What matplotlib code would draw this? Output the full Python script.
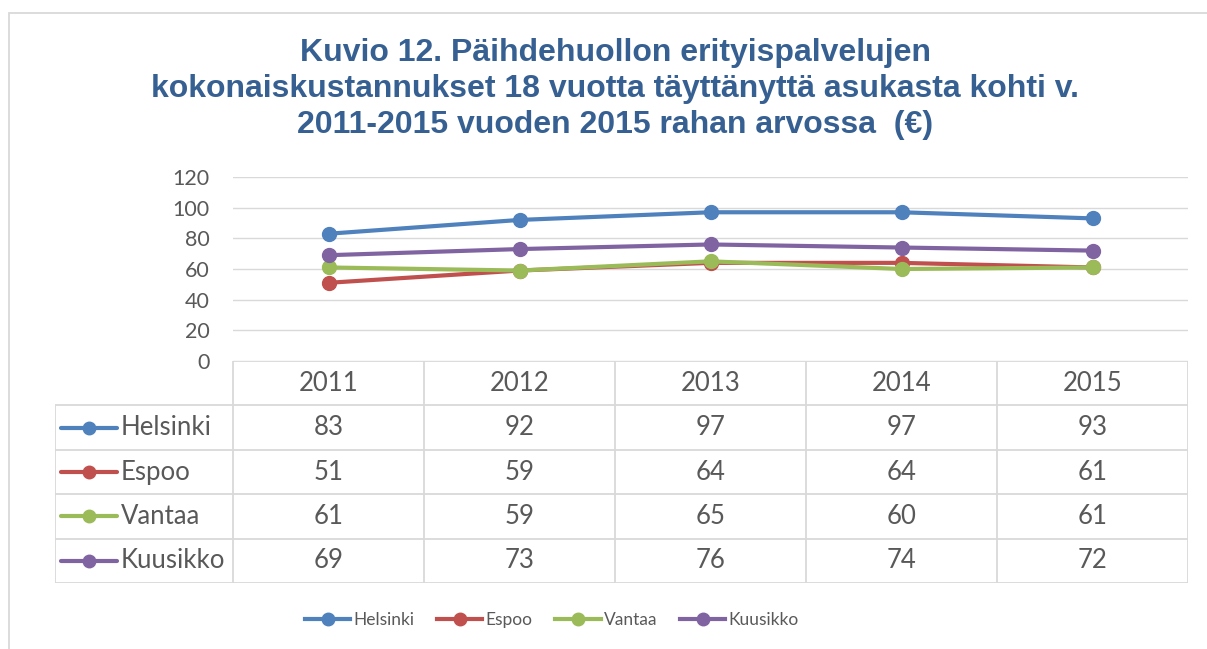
import matplotlib
matplotlib.use('Agg')
import matplotlib.pyplot as plt
from matplotlib import font_manager as fm
from matplotlib.lines import Line2D
from matplotlib.patches import Rectangle

# data
years = ['2011', '2012', '2013', '2014', '2015']
helsinki = [83, 92, 97, 97, 93]
espoo = [51, 59, 64, 64, 61]
vantaa = [61, 59, 65, 60, 61]
kuusikko = [69, 73, 76, 74, 72]
series_names = ['Helsinki', 'Espoo', 'Vantaa', 'Kuusikko']
yticks = [0, 20, 40, 60, 80, 100, 120]

title = ('Kuvio 12. Päihdehuollon erityispalvelujen\n'
         'kokonaiskustannukset 18 vuotta täyttänyttä asukasta kohti v.\n'
         '2011-2015 vuoden 2015 rahan arvossa  (€)')

colors = ['#4F81BD', '#C0504D', '#9BBB59', '#8064A2']
txt = '#595959'
grid = '#D9D9D9'

names = {f.name for f in fm.fontManager.ttflist}
body_font = 'Lato' if 'Lato' in names else 'DejaVu Sans'
title_font = 'Liberation Sans' if 'Liberation Sans' in names else 'DejaVu Sans'

W, H = 1207, 649
fig = plt.figure(figsize=(W / 100, H / 100), dpi=100)


def px_axes(left, top, right, bottom):
    return fig.add_axes([left / W, 1 - bottom / H, (right - left) / W, (bottom - top) / H])


# outer chart frame
fig.patches.append(Rectangle((9 / W, -0.1), 2, 1 - 13 / H + 0.1, transform=fig.transFigure,
                             fill=False, edgecolor=grid, lw=1.3))

fig.text(615 / W, 1 - 89 / H, title, ha='center', va='center', multialignment='center',
         fontsize=23, fontweight='bold', color='#376092', family=title_font, linespacing=1.25)

# line chart
ax = px_axes(233, 177, 1188, 361)
all_series = [helsinki, espoo, vantaa, kuusikko]
x = list(range(len(years)))
for vals, c, name in zip(all_series, colors, series_names):
    ax.plot(x, vals, color=c, lw=3, marker='o', markersize=10, label=name,
            solid_capstyle='round', zorder=3)
ax.set_xlim(-0.5, len(years) - 0.5)
ax.set_ylim(0, 120)
ax.set_yticks(yticks)
ax.set_xticks([])
ax.grid(axis='y', color=grid, lw=1.0)
ax.set_axisbelow(True)
for s in ax.spines.values():
    s.set_visible(False)
ax.tick_params(axis='y', length=0, pad=17, labelsize=15.5, labelcolor=txt)
for lab in ax.get_yticklabels():
    lab.set_family(body_font)

# data table below the chart, sharing the category scale
col_w = (1188 - 233) / len(years)
lead = (233 - 55) / col_w
tax = px_axes(55, 361, 1188, 583)
tax.set_xlim(-0.5 - lead, len(years) - 0.5)
tax.set_ylim(len(series_names) + 1, 0)
tax.axis('off')
left = -0.5 - lead
right = len(years) - 0.5
lkw = dict(color=grid, lw=1.3, solid_capstyle='butt')
tax.plot([-0.5, right], [0, 0], **lkw)
for r in range(1, len(series_names) + 2):
    tax.plot([left, right], [r, r], **lkw)
tax.plot([left, left], [1, len(series_names) + 1], **lkw)
for i in range(len(years) + 1):
    tax.plot([i - 0.5, i - 0.5], [0, len(series_names) + 1], **lkw)
fs = 18.5
for i, yr in enumerate(years):
    tax.text(i, 0.5, yr, ha='center', va='center', fontsize=fs, color=txt, family=body_font)
for r, (vals, c, name) in enumerate(zip(all_series, colors, series_names), start=1):
    tax.plot([left + 6 / col_w, left + 62 / col_w], [r + 0.5, r + 0.5], color=c, lw=3,
             solid_capstyle='round')
    tax.plot([left + 34 / col_w], [r + 0.5], 'o', color=c, markersize=9)
    tax.text(left + 66 / col_w, r + 0.5, name, ha='left', va='center', fontsize=fs,
             color=txt, family=body_font)
    for i, v in enumerate(vals):
        tax.text(i, r + 0.5, str(v), ha='center', va='center', fontsize=fs, color=txt,
                 family=body_font)

# legend at the bottom
handles = [Line2D([], [], color=c, lw=3, marker='o', markersize=9) for c in colors]
leg = fig.legend(handles, series_names, loc='center', bbox_to_anchor=(552 / W, 1 - 620 / H),
                 ncol=4, frameon=False, handlelength=2.6, handletextpad=0.2, columnspacing=1.3,
                 prop={'family': body_font, 'size': 12.5})
for t in leg.get_texts():
    t.set_color(txt)

fig.savefig('out.png', dpi=100)
